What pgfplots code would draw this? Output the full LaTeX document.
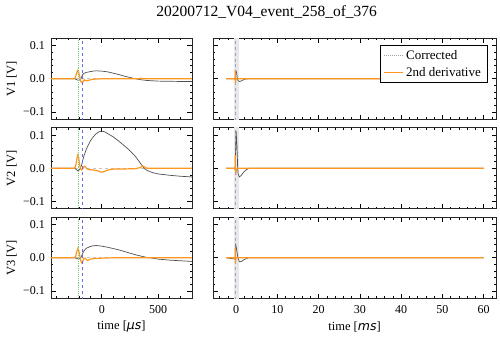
\documentclass[border=0pt]{standalone}
\usepackage{fontspec}
\setmainfont{Liberation Serif}
\newfontfamily\dvsans{DejaVu Sans}
\usepackage{pgfplots}
\pgfplotsset{compat=1.18}

\definecolor{corr}{RGB}{80,80,80}
\definecolor{deriv}{RGB}{255,150,30}
\definecolor{vgreen}{RGB}{120,200,120}
\definecolor{vblue}{RGB}{100,110,240}

\pgfplotsset{
  panel/.style={
    scale only axis, height=81bp,
    ymin=-0.122, ymax=0.122,
    ytick={-0.1,0,0.1},
    yticklabels={−0.1,0.0,0.1},
    minor ytick={-0.08,-0.06,-0.04,-0.02,0.02,0.04,0.06,0.08},
    tick align=inside, xtick pos=both, ytick pos=both,
    major tick length=4.5bp, minor tick length=2.2bp,
    every tick/.style={black, line width=0.6bp},
    axis line style={line width=0.8bp, black!85},
    ticklabel style={font=\fontsize{12bp}{14bp}\selectfont},
    label style={font=\fontsize{12.5bp}{15bp}\selectfont},
    yticklabel style={anchor=east, inner sep=0pt, xshift=-6bp},
    xticklabel style={anchor=center, inner sep=0pt, yshift=-11bp},
    ylabel style={at={([xshift=-39.3bp]rel axis cs:0,0.5)}, anchor=center},
    xlabel style={at={([yshift=-28.4bp]rel axis cs:0.5,0)}, anchor=center},
    clip=true,
  },
  lpanel/.style={panel, width=141bp, xmin=-450, xmax=800,
    xtick={0,500}, xticklabels={},
    minor xtick={-400,-300,-200,-100,100,200,300,400,600,700}},
  rpanel/.style={panel, width=283bp, xmin=-5.6, xmax=63,
    xtick={0,10,20,30,40,50,60}, xticklabels={}, yticklabels={},
    minor xtick={-4,-2,2,4,6,8,12,14,16,18,22,24,26,28,32,34,36,38,42,44,46,48,52,54,56,58,62}},
  corrline/.style={corr, line width=0.7bp,
    legend image code/.code={\draw[draw=gray!75, densely dotted, line width=1bp] (0bp,0bp) -- (19bp,0bp);}},
  derivline/.style={deriv, line width=1.2bp,
    legend image code/.code={\draw[draw=deriv, solid, line width=1.2bp] (0bp,0bp) -- (19bp,0bp);}},
}

\newcommand{\leftbase}{%
  \addplot[gray!45, dashed, line width=0.7bp, forget plot] coordinates {(-450,0) (800,0)};
}
\newcommand{\leftlines}{%
  \addplot[vgreen, densely dotted, line width=0.9bp, forget plot] coordinates {(-207,-0.2) (-207,0.2)};
  \addplot[vblue, dashed, line width=0.9bp, forget plot] coordinates {(-169,-0.2) (-169,0.2)};
}
\newcommand{\rightdeco}{%
  \addplot[draw=none, fill=gray!18, forget plot] coordinates {(-0.45,-0.2) (-0.45,0.2) (0.8,0.2) (0.8,-0.2)} -- cycle;
  \addplot[vblue!55!gray!70, dashed, line width=0.8bp, forget plot] coordinates {(-0.169,-0.2) (-0.169,0.2)};
}

\begin{document}
\begin{tikzpicture}
\useasboundingbox (0,0) rectangle (500bp,338bp);

\node[font=\fontsize{15.5bp}{18bp}\selectfont] at (266.7bp,326bp) {20200712\_V04\_event\_258\_of\_376};

% ---------- V1 ----------
\begin{axis}[lpanel, at={(51bp,218.7bp)}, anchor=south west, ylabel={V1 [V]}]
\leftbase
\addplot[corrline] coordinates {
 (-450,0) (-300,0) (-240,0) (-220,-0.003) (-205,-0.005) (-190,-0.002) (-180,0.005)
 (-170,0.012) (-160,0.016) (-140,0.019) (-110,0.021) (-80,0.023) (-50,0.024) (-20,0.0235)
 (0,0.023) (50,0.021) (100,0.017) (150,0.013) (200,0.008) (250,0.004) (300,0)
 (350,-0.003) (400,-0.005) (500,-0.007) (600,-0.0075) (700,-0.008) (800,-0.008)};
\addplot[derivline] coordinates {
 (-450,0) (-250,0) (-235,0.003) (-225,0.015) (-215,0.025) (-205,0.02) (-195,0.005)
 (-185,-0.008) (-175,-0.012) (-165,-0.008) (-155,-0.003) (-145,-0.005) (-130,-0.006)
 (-110,-0.004) (-90,-0.002) (-60,-0.001) (0,0) (330,0) (350,0.002) (370,0) (800,0)};
\leftlines
\end{axis}
\begin{axis}[rpanel, at={(213bp,218.7bp)}, anchor=south west,
  legend style={at={(rel axis cs:1,1)}, anchor=north east, xshift=-9bp, yshift=-7bp,
    draw=black, font=\fontsize{13bp}{15bp}\selectfont,
    inner xsep=4bp, inner ysep=3bp, row sep=2bp},
  legend cell align=left]
\rightdeco
\addplot[corrline] coordinates {
 (-2.4,0) (-0.25,0) (-0.2,-0.004) (-0.17,0.012) (-0.05,0.024) (0.1,0.02) (0.3,0)
 (0.5,-0.006) (0.8,-0.008) (1.2,-0.007) (1.6,-0.004) (2.2,-0.001) (3,0) (60,0)};
\addplot[derivline] coordinates {
 (-2.4,0) (-0.23,0) (-0.215,0.025) (-0.175,-0.012) (-0.1,-0.004) (0,0) (60,0)};
\legend{Corrected, 2nd derivative}
\end{axis}

% ---------- V2 ----------
\begin{axis}[lpanel, at={(51bp,129.2bp)}, anchor=south west, ylabel={V2 [V]}]
\leftbase
\addplot[corrline] coordinates {
 (-450,0) (-240,0) (-225,-0.004) (-210,-0.008) (-195,-0.003) (-180,0.008) (-170,0.022)
 (-160,0.035) (-140,0.055) (-120,0.07) (-100,0.083) (-75,0.095) (-50,0.104) (-25,0.11)
 (0,0.112) (25,0.11) (50,0.105) (100,0.095) (150,0.082) (200,0.068) (250,0.053)
 (300,0.035) (350,0.012) (375,0) (400,-0.006) (450,-0.013) (500,-0.017) (600,-0.021)
 (700,-0.024) (800,-0.026)};
\addplot[derivline] coordinates {
 (-450,0) (-245,0) (-232,0.005) (-222,0.025) (-214,0.04) (-206,0.035) (-198,0.015)
 (-188,-0.002) (-178,-0.005) (-168,0) (-155,0.006) (-145,0.004) (-130,-0.002)
 (-110,-0.004) (-80,-0.005) (-40,-0.007) (-10,-0.011) (10,-0.011) (40,-0.007)
 (80,-0.003) (120,-0.002) (200,-0.002) (300,-0.001) (340,0.002) (365,0.007)
 (385,0.003) (400,0) (800,0)};
\leftlines
\end{axis}
\begin{axis}[rpanel, at={(213bp,129.2bp)}, anchor=south west]
\rightdeco
\addplot[corrline] coordinates {
 (-2.4,0) (-0.25,0) (-0.2,-0.008) (-0.17,0.022) (0,0.112) (0.2,0.068) (0.3,0.035)
 (0.375,0) (0.5,-0.017) (0.8,-0.026) (1.2,-0.022) (1.8,-0.012) (2.5,-0.004) (3.2,0) (60,0)};
\addplot[derivline] coordinates {
 (-2.4,0) (-0.23,0) (-0.214,0.04) (-0.178,-0.005) (-0.1,-0.005) (0,-0.011) (0.1,-0.003) (0.4,0) (60,0)};
\end{axis}

% ---------- V3 ----------
\begin{axis}[lpanel, at={(51bp,39.7bp)}, anchor=south west, ylabel={V3 [V]},
  xticklabels={0,500}, xlabel={time [{\dvsans\itshape μs}]}]
\leftbase
\addplot[corrline] coordinates {
 (-450,0) (-240,0) (-220,-0.002) (-205,-0.004) (-190,-0.001) (-178,0.006) (-168,0.014)
 (-155,0.022) (-135,0.029) (-110,0.033) (-80,0.036) (-50,0.037) (-20,0.036) (0,0.035)
 (50,0.032) (100,0.028) (150,0.024) (200,0.019) (250,0.014) (300,0.009) (350,0.005)
 (400,0.001) (430,0) (500,-0.004) (600,-0.007) (700,-0.009) (800,-0.011)};
\addplot[derivline] coordinates {
 (-450,0) (-245,0) (-232,0.004) (-222,0.018) (-212,0.028) (-204,0.022) (-195,0.006)
 (-185,-0.01) (-176,-0.016) (-167,-0.01) (-158,-0.002) (-148,-0.001) (-135,-0.006)
 (-122,-0.008) (-110,-0.005) (-90,-0.003) (-50,-0.002) (0,-0.001) (100,0) (800,0)};
\leftlines
\end{axis}
\begin{axis}[rpanel, at={(213bp,39.7bp)}, anchor=south west,
  xticklabels={0,10,20,30,40,50,60}, xlabel={time [{\dvsans\itshape ms}]}]
\rightdeco
\addplot[corrline] coordinates {
 (-2.4,0) (-0.2,-0.004) (-0.1,0.033) (-0.05,0.037) (0.2,0.019) (0.43,0) (0.8,-0.012)
 (1.3,-0.011) (2,-0.005) (3,0) (60,0)};
\addplot[derivline] coordinates {
 (-2.4,0) (-0.23,0) (-0.212,0.028) (-0.176,-0.016) (-0.122,-0.008) (0,-0.001) (0.1,0) (60,0)};
\end{axis}
\end{tikzpicture}
\end{document}
